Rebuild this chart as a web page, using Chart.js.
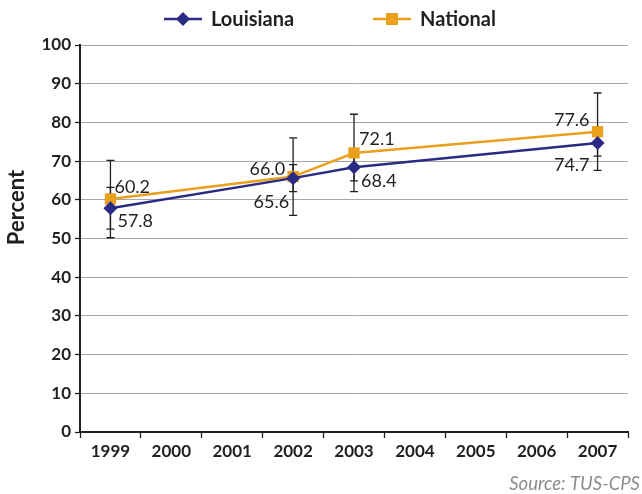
<!DOCTYPE html>
<html>
<head>
<meta charset="utf-8">
<script src="https://cdn.jsdelivr.net/npm/chart.js@4.4.0/dist/chart.umd.min.js"></script>
<style>
  html, body { margin: 0; padding: 0; background: #ffffff; }
  #wrap { width: 642px; height: 494px; }
</style>
</head>
<body>
<div id="wrap"><canvas id="c" width="642" height="494"></canvas></div>
<script>
// ---- data ----
const years = ['1999', '2000', '2001', '2002', '2003', '2004', '2005', '2006', '2007'];
const measuredYears = ['1999', '2002', '2003', '2007'];
const louisiana = [57.8, 65.6, 68.4, 74.7];
const national = [60.2, 66.0, 72.1, 77.6];
const louisianaErr = [5.4, 3.5, 3.5, 3.4];
const nationalErr = [10.0, 10.0, 10.0, 10.0];
const yTicks = [0, 10, 20, 30, 40, 50, 60, 70, 80, 90, 100];
const yTitle = 'Percent';
const sourceNote = 'Source: TUS-CPS';

const NAVY = '#2b2a85';
const ORANGE = '#e9a11d';
const FONT = 'Lato, "Open Sans", sans-serif';

function toPoints(vals) { return measuredYears.map((y, i) => ({ x: y, y: vals[i] })); }

// label placement (pixel offsets relative to the point, text align); 0 = Louisiana, 1 = National
const labelPlacement = [
  [ { dx: 7, dy: 13, align: 'left' }, { dx: -4, dy: 24, align: 'right' }, { dx: 7, dy: 14, align: 'left' }, { dx: -8, dy: 22, align: 'right' } ],
  [ { dx: 4, dy: -12, align: 'left' }, { dx: -8, dy: -7, align: 'right' }, { dx: 5, dy: -14, align: 'left' }, { dx: -8, dy: -12, align: 'right' } ]
];

const errorBarPlugin = {
  id: 'errorBars',
  beforeDatasetsDraw(chart) {
    const ctx = chart.ctx;
    const xs = chart.scales.x, ys = chart.scales.y;
    const sets = [[louisiana, louisianaErr], [national, nationalErr]];
    ctx.save();
    ctx.strokeStyle = '#231f20';
    ctx.lineWidth = 1.3;
    sets.forEach(([vals, errs]) => {
      vals.forEach((v, i) => {
        const x = xs.getPixelForValue(xs.getLabels().indexOf(measuredYears[i]));
        const yTop = ys.getPixelForValue(v + errs[i]);
        const yBot = ys.getPixelForValue(v - errs[i]);
        ctx.beginPath();
        ctx.moveTo(x, yTop); ctx.lineTo(x, yBot);
        ctx.moveTo(x - 4, yTop); ctx.lineTo(x + 4, yTop);
        ctx.moveTo(x - 4, yBot); ctx.lineTo(x + 4, yBot);
        ctx.stroke();
      });
    });
    ctx.restore();
  }
};

const valueLabelPlugin = {
  id: 'valueLabels',
  afterDatasetsDraw(chart) {
    const ctx = chart.ctx;
    ctx.save();
    ctx.font = '18px ' + FONT;
    ctx.fillStyle = '#231f20';
    ctx.textBaseline = 'middle';
    chart.data.datasets.forEach((ds, di) => {
      const meta = chart.getDatasetMeta(di);
      meta.data.forEach((pt, i) => {
        const p = labelPlacement[di][i];
        ctx.textAlign = p.align;
        ctx.fillText(ds.data[i].y.toFixed(1), pt.x + p.dx, pt.y + p.dy);
      });
    });
    ctx.restore();
  }
};

function drawMarker(ctx, style, x, y, color) {
  ctx.fillStyle = color;
  ctx.beginPath();
  if (style === 'rectRot') {
    const r = 7;
    ctx.moveTo(x, y - r); ctx.lineTo(x + r, y); ctx.lineTo(x, y + r); ctx.lineTo(x - r, y);
    ctx.closePath();
  } else {
    ctx.rect(x - 6, y - 6, 12, 12);
  }
  ctx.fill();
}

const decorPlugin = {
  id: 'decor',
  afterDraw(chart) {
    const ctx = chart.ctx;
    const items = [
      { ds: chart.data.datasets[0], x: 164 },
      { ds: chart.data.datasets[1], x: 373 }
    ];
    const y = 19;
    ctx.save();
    // legend
    items.forEach(it => {
      ctx.strokeStyle = it.ds.borderColor;
      ctx.lineWidth = 2.5;
      ctx.beginPath();
      ctx.moveTo(it.x, y); ctx.lineTo(it.x + 38, y);
      ctx.stroke();
      drawMarker(ctx, it.ds.pointStyle, it.x + 19, y, it.ds.borderColor);
      ctx.fillStyle = '#231f20';
      ctx.font = 'bold 20px ' + FONT;
      ctx.textAlign = 'left';
      ctx.textBaseline = 'middle';
      ctx.fillText(it.ds.label, it.x + 47, y + 1);
    });
    // y axis title
    const ys = chart.scales.y;
    ctx.save();
    ctx.translate(17, ys.getPixelForValue(58));
    ctx.rotate(-Math.PI / 2);
    ctx.font = 'bold 22px ' + FONT;
    ctx.fillStyle = '#231f20';
    ctx.textAlign = 'center';
    ctx.textBaseline = 'middle';
    ctx.fillText(yTitle, 0, 0);
    ctx.restore();
    // source note
    ctx.font = 'italic 18.5px ' + FONT;
    ctx.fillStyle = '#8c8c8c';
    ctx.textAlign = 'right';
    ctx.textBaseline = 'middle';
    ctx.fillText(sourceNote, 640, 484);
    ctx.restore();
  }
};

new Chart(document.getElementById('c'), {
  type: 'line',
  data: {
    labels: years,
    datasets: [
      {
        label: 'Louisiana',
        data: toPoints(louisiana),
        borderColor: NAVY,
        backgroundColor: NAVY,
        borderWidth: 2.5,
        pointStyle: 'rectRot',
        pointRadius: 7,
        pointBorderWidth: 0,
        tension: 0
      },
      {
        label: 'National',
        data: toPoints(national),
        borderColor: ORANGE,
        backgroundColor: ORANGE,
        borderWidth: 2.5,
        pointStyle: 'rect',
        pointRadius: 8,
        pointBorderWidth: 0,
        tension: 0
      }
    ]
  },
  options: {
    responsive: false,
    animation: false,
    devicePixelRatio: 1,
    layout: { padding: { top: 45, right: 14, left: 0, bottom: 23 } },
    plugins: {
      legend: { display: false },
      tooltip: { enabled: false }
    },
    scales: {
      x: {
        type: 'category',
        offset: true,
        grid: {
          offset: true,
          drawOnChartArea: false,
          drawTicks: true,
          tickLength: 6,
          tickColor: '#231f20',
          tickWidth: 1.3
        },
        border: { display: true, color: '#231f20', width: 2 },
        ticks: {
          color: '#231f20',
          font: { family: FONT, size: 17, weight: 'bold' },
          padding: 3,
          maxRotation: 0,
          autoSkip: false
        },
        afterFit(scale) { scale.height = 39; }
      },
      y: {
        min: 0,
        max: 100,
        afterBuildTicks(scale) { scale.ticks = yTicks.map(v => ({ value: v })); },
        grid: {
          color: '#a6a6a6',
          lineWidth: 1,
          tickLength: 5,
          tickColor: '#231f20',
          tickWidth: 1.3
        },
        border: { display: true, color: '#231f20', width: 2 },
        ticks: {
          color: '#231f20',
          font: { family: FONT, size: 17, weight: 'bold' },
          padding: 4
        },
        afterFit(scale) { scale.width = 80; }
      }
    }
  },
  plugins: [errorBarPlugin, valueLabelPlugin, decorPlugin]
});
</script>
</body>
</html>
